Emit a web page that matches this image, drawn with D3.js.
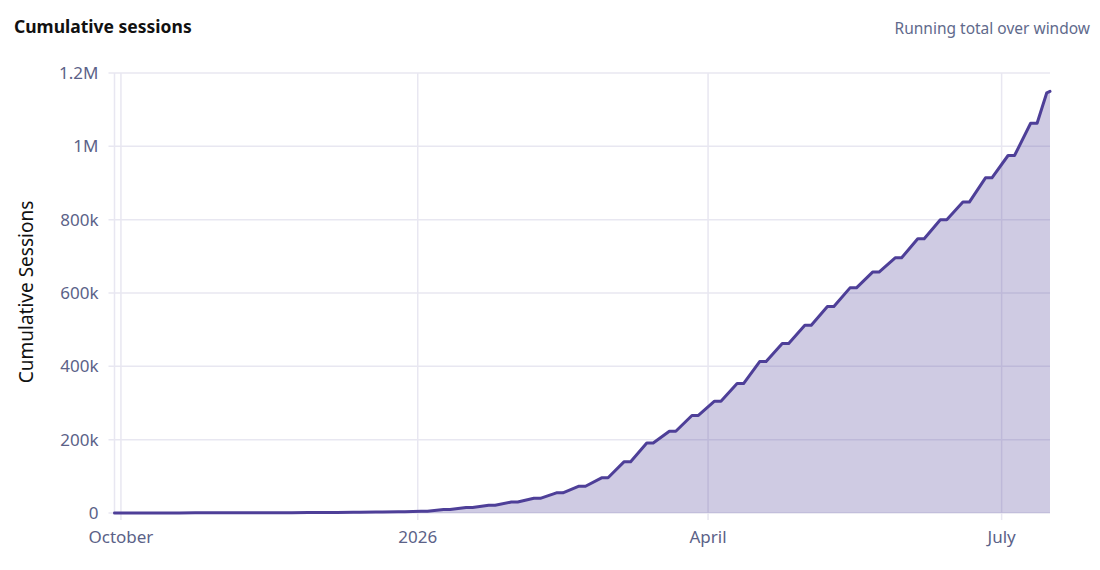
<!DOCTYPE html>
<html>
<head>
<meta charset="utf-8">
<script src="https://cdn.jsdelivr.net/npm/d3@7"></script>
<style>
  body { margin: 0; background: #fff; }
  svg { display: block; font-family: "Noto Sans", sans-serif; }
</style>
</head>
<body>
<div id="chart"></div>
<script>
// Data: cumulative sessions at each weekend plateau (Fri -> Sun)
const startDate = "2025-09-29";
const startTotal = 0;
const fridays = [
  "2025-10-03", "2025-10-10", "2025-10-17", "2025-10-24", "2025-10-31",
  "2025-11-07", "2025-11-14", "2025-11-21", "2025-11-28",
  "2025-12-05", "2025-12-12", "2025-12-19", "2025-12-26",
  "2026-01-02", "2026-01-09", "2026-01-16", "2026-01-23", "2026-01-30",
  "2026-02-06", "2026-02-13", "2026-02-20", "2026-02-27",
  "2026-03-06", "2026-03-13", "2026-03-20", "2026-03-27",
  "2026-04-03", "2026-04-10", "2026-04-17", "2026-04-24",
  "2026-05-01", "2026-05-08", "2026-05-15", "2026-05-22", "2026-05-29",
  "2026-06-05", "2026-06-12", "2026-06-19", "2026-06-26",
  "2026-07-03", "2026-07-10"
];
const weekendTotals = [
  50, 150, 250, 350, 450,
  600, 800, 1000, 1300,
  1700, 2200, 2800, 3400,
  5000, 9500, 15000, 21000, 30000,
  40000, 55000, 73000, 96000,
  140000, 191000, 223000, 266000,
  305000, 353000, 413000, 462000,
  512000, 563000, 614000, 657000, 696000,
  748000, 800000, 848000, 914000,
  975000, 1063000
];
const lastDates = ["2026-07-15", "2026-07-16"];
const lastTotals = [1146000, 1150000];

const xTickDates = ["2025-10-01", "2026-01-01", "2026-04-01", "2026-07-01"];
const xTickLabels = ["October", "2026", "April", "July"];
const yTicks = [0, 200000, 400000, 600000, 800000, 1000000, 1200000];
const yTickLabels = ["0", "200k", "400k", "600k", "800k", "1M", "1.2M"];

const parse = d3.timeParse("%Y-%m-%d");

// Build the series: each weekend is a plateau from Friday to Sunday
const series = [{ date: parse(startDate), value: startTotal }];
fridays.forEach((f, i) => {
  const fri = parse(f);
  series.push({ date: fri, value: weekendTotals[i] });
  series.push({ date: d3.timeDay.offset(fri, 2), value: weekendTotals[i] });
});
lastDates.forEach((d, i) => series.push({ date: parse(d), value: lastTotals[i] }));

const width = 1100, height = 570;
const plotLeft = 114.5, plotRight = 1050, plotTop = 73, plotBottom = 513;

const svg = d3.select("#chart")
  .append("svg")
    .attr("width", width)
    .attr("height", height);

const xScale = d3.scaleTime()
  .domain([parse(startDate), parse(lastDates[lastDates.length - 1])])
  .range([plotLeft, plotRight]);
const yScale = d3.scaleLinear()
  .domain([0, 1200000])
  .range([plotBottom, plotTop]);

const gridColor = "#e8e7f1";
const tickColor = "#5b6288";

// Horizontal gridlines
svg.append("g")
  .selectAll("line")
  .data(yTicks)
  .join("line")
    .attr("x1", plotLeft - 6)
    .attr("x2", plotRight)
    .attr("y1", d => yScale(d))
    .attr("y2", d => yScale(d))
    .attr("stroke", gridColor)
    .attr("stroke-width", 1.5);

// Left frame line
svg.append("line")
  .attr("x1", plotLeft)
  .attr("x2", plotLeft)
  .attr("y1", plotTop)
  .attr("y2", plotBottom)
  .attr("stroke", gridColor)
  .attr("stroke-width", 1.5);

// Vertical gridlines
svg.append("g")
  .selectAll("line")
  .data(xTickDates)
  .join("line")
    .attr("x1", d => xScale(parse(d)))
    .attr("x2", d => xScale(parse(d)))
    .attr("y1", plotTop)
    .attr("y2", plotBottom + 7)
    .attr("stroke", gridColor)
    .attr("stroke-width", 1.5);

// Y tick labels
svg.append("g")
  .selectAll("text")
  .data(yTicks)
  .join("text")
    .text((d, i) => yTickLabels[i])
    .attr("x", plotLeft - 16)
    .attr("y", d => yScale(d))
    .attr("dy", "0.35em")
    .attr("text-anchor", "end")
    .attr("fill", tickColor)
    .style("font-size", "17px");

// X tick labels
svg.append("g")
  .selectAll("text")
  .data(xTickDates)
  .join("text")
    .text((d, i) => xTickLabels[i])
    .attr("x", d => xScale(parse(d)))
    .attr("y", plotBottom + 30)
    .attr("text-anchor", "middle")
    .attr("fill", tickColor)
    .style("font-size", "17px");

// Area and line
const lineColor = "#4e3f98";
const area = d3.area()
  .x(d => xScale(d.date))
  .y0(yScale(0))
  .y1(d => yScale(d.value));
const line = d3.line()
  .x(d => xScale(d.date))
  .y(d => yScale(d.value));

svg.append("path")
  .datum(series)
  .attr("d", area)
  .attr("fill", lineColor)
  .attr("fill-opacity", 0.27);

svg.append("path")
  .datum(series)
  .attr("d", line)
  .attr("fill", "none")
  .attr("stroke", lineColor)
  .attr("stroke-width", 3)
  .attr("stroke-linejoin", "round")
  .attr("stroke-linecap", "round");

// Titles
svg.append("text")
  .text("Cumulative sessions")
  .attr("x", 14)
  .attr("y", 33)
  .attr("fill", "#111")
  .style("font-size", "17.5px")
  .style("font-weight", "bold");

svg.append("text")
  .text("Running total over window")
  .attr("x", 1090)
  .attr("y", 34)
  .attr("text-anchor", "end")
  .attr("fill", "#616a8c")
  .style("font-size", "15.5px");

svg.append("text")
  .text("Cumulative Sessions")
  .attr("transform", `translate(33, ${(plotTop + plotBottom) / 2 - 1}) rotate(-90)`)
  .attr("text-anchor", "middle")
  .attr("fill", "#111")
  .style("font-size", "19px");
</script>
</body>
</html>
